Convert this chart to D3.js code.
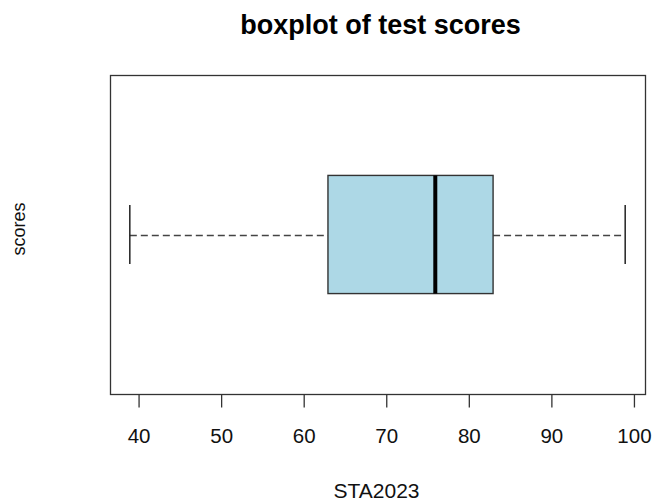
<!DOCTYPE html>
<html><head><meta charset="utf-8">
<script src="https://cdn.jsdelivr.net/npm/d3@7"></script>
<style>body{margin:0;background:#fff}svg{display:block}</style>
</head><body>
<script>
const categories = ["STA2023"];
const stats = [{min: 39, q1: 63, median: 76, q3: 83, max: 99}];
const tickValues = [40, 50, 60, 70, 80, 90, 100];
const title = "boxplot of test scores";
const yLabel = "scores";

const W = 653, H = 502;
const m = {left: 110, right: 8, top: 75, bottom: 108};
const svg = d3.select("body").append("svg").attr("width", W).attr("height", H)
  .style("font-family", "'Liberation Sans', Arial, sans-serif");

const lo = d3.min(stats, d => d.min), hi = d3.max(stats, d => d.max);
const pad = (hi - lo) * 0.04;
const x = d3.scaleLinear().domain([lo - pad, hi + pad]).range([m.left, W - m.right]);
const y = d3.scaleLinear().domain([0.46, 1.54]).range([H - m.bottom, m.top]);

// frame
svg.append("rect").attr("x", m.left + 0.5).attr("y", m.top + 0.5)
  .attr("width", W - m.right - m.left).attr("height", H - m.bottom - m.top)
  .attr("fill", "none").attr("stroke", "#333").attr("stroke-width", 1.3);

// x axis
const ax = svg.append("g").attr("transform", `translate(0.5,${H - m.bottom + 0.5})`)
  .call(d3.axisBottom(x).tickValues(tickValues).tickSize(13).tickPadding(0).tickFormat(d3.format("d")));
ax.select(".domain").remove();
ax.selectAll(".tick line").attr("stroke", "#333").attr("stroke-width", 1.3);
ax.selectAll("text").attr("font-size", 20.5).attr("fill", "#111").attr("dy", null).attr("y", 48)
  .attr("font-family", "'Liberation Sans', Arial, sans-serif");

stats.forEach((d, i) => {
  const c = i + 1;
  const g = svg.append("g");
  const half = 0.2, staple = 0.1;
  const cy = Math.round(y(c)) + 0.5;
  g.append("line").attr("x1", x(d.min)).attr("x2", x(d.q1)).attr("y1", cy).attr("y2", cy)
    .attr("stroke", "#444").attr("stroke-width", 1.5).attr("stroke-dasharray", "7,4");
  g.append("line").attr("x1", x(d.q3)).attr("x2", x(d.max)).attr("y1", cy).attr("y2", cy)
    .attr("stroke", "#444").attr("stroke-width", 1.5).attr("stroke-dasharray", "7,4");
  [d.min, d.max].forEach(v => {
    g.append("line").attr("x1", x(v)).attr("x2", x(v)).attr("y1", y(c - staple)).attr("y2", y(c + staple))
      .attr("stroke", "#222").attr("stroke-width", 1.5);
  });
  g.append("rect").attr("x", x(d.q1)).attr("y", y(c + half))
    .attr("width", x(d.q3) - x(d.q1)).attr("height", y(c - half) - y(c + half))
    .attr("fill", "#ADD8E6").attr("stroke", "#333").attr("stroke-width", 1.4);
  g.append("line").attr("x1", x(d.median)).attr("x2", x(d.median))
    .attr("y1", y(c + half)).attr("y2", y(c - half)).attr("stroke", "#000").attr("stroke-width", 4);
});

svg.append("text").attr("x", 380.5).attr("y", 34)
  .attr("text-anchor", "middle").attr("font-weight", "bold").attr("font-size", 27).text(title);
svg.append("text").attr("x", 376.5).attr("y", 498)
  .attr("text-anchor", "middle").attr("font-size", 21).attr("fill", "#111").text(categories[0]);
svg.append("text").attr("transform", `translate(25,229) rotate(-90)`)
  .attr("text-anchor", "middle").attr("font-size", 18).attr("fill", "#111").text(yLabel);
</script>
</body></html>
